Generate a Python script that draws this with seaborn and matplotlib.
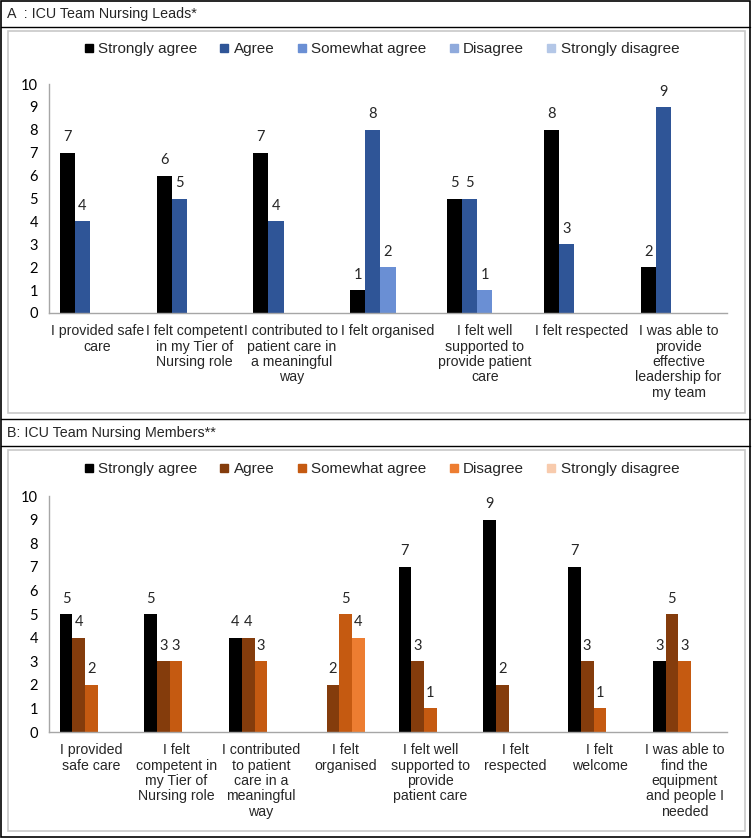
import matplotlib
matplotlib.use("Agg")
import matplotlib.pyplot as plt
import seaborn as sns
import pandas as pd
from matplotlib.lines import Line2D
from matplotlib.patches import Rectangle

# ---------------- data ----------------
responses = ["Strongly agree", "Agree", "Somewhat agree", "Disagree", "Strongly disagree"]

leads_items = [
    "I provided safe\ncare",
    "I felt competent\nin my Tier of\nNursing role",
    "I contributed to\npatient care in\na meaningful\nway",
    "I felt organised",
    "I felt well\nsupported to\nprovide patient\ncare",
    "I felt respected",
    "I was able to\nprovide\neffective\nleadership for\nmy team",
]
leads_strongly_agree = [7, 6, 7, 1, 5, 8, 2]
leads_agree = [4, 5, 4, 8, 5, 3, 9]
leads_somewhat_agree = [0, 0, 0, 2, 1, 0, 0]
leads_disagree = [0, 0, 0, 0, 0, 0, 0]
leads_strongly_disagree = [0, 0, 0, 0, 0, 0, 0]

members_items = [
    "I provided\nsafe care",
    "I felt\ncompetent in\nmy Tier of\nNursing role",
    "I contributed\nto patient\ncare in a\nmeaningful\nway",
    "I felt\norganised",
    "I felt well\nsupported to\nprovide\npatient care",
    "I felt\nrespected",
    "I felt\nwelcome",
    "I was able to\nfind the\nequipment\nand people I\nneeded",
]
members_strongly_agree = [5, 5, 4, 0, 7, 9, 7, 3]
members_agree = [4, 3, 4, 2, 3, 2, 3, 5]
members_somewhat_agree = [2, 3, 3, 5, 1, 0, 1, 3]
members_disagree = [0, 0, 0, 4, 0, 0, 0, 0]
members_strongly_disagree = [0, 0, 0, 0, 0, 0, 0, 0]

yticks = [0, 1, 2, 3, 4, 5, 6, 7, 8, 9, 10]

leads_colors = ["#000000", "#2F5597", "#6A8FD4", "#8FAADC", "#B4C7E7"]
members_colors = ["#000000", "#843C0C", "#C55A11", "#ED7D31", "#F8CBAD"]

# ---------------- figure ----------------
sns.set_theme(style="white")
plt.rcParams["font.family"] = ["Liberation Sans", "DejaVu Sans"]

W, H = 754, 839
fig = plt.figure(figsize=(W / 100, H / 100), dpi=100)


def fx(px):
    return px / W


def fy(py):
    return 1 - py / H


def hline(y, x0=1, x1=750, color="black", lw=1.0):
    fig.add_artist(Line2D([fx(x0), fx(x1)], [fy(y), fy(y)], color=color, lw=lw,
                          transform=fig.transFigure))


def box(x0, y0, x1, y1, color, lw=1.0):
    fig.add_artist(Rectangle((fx(x0), fy(y1)), fx(x1) - fx(x0), fy(y0) - fy(y1),
                             fill=False, edgecolor=color, lw=lw, transform=fig.transFigure))


# outer frame and header bands
box(1, 1, 750, 837, "black", 1.2)
hline(27)
hline(419)
hline(446)
box(8, 31, 745, 413, "#C8C8C8", 1.2)
box(8, 450, 745, 831, "#C8C8C8", 1.2)

head_font = ["Liberation Sans Narrow", "Liberation Sans", "DejaVu Sans"]
fig.text(fx(7), fy(14), "A  : ICU Team Nursing Leads*", ha="left", va="center",
         fontsize=10.3, family=head_font)
fig.text(fx(7), fy(433), "B: ICU Team Nursing Members**", ha="left", va="center",
         fontsize=10.3, family=head_font)


def make_panel(rect, items, series, colors, width, legend_y):
    ax = fig.add_axes(rect)
    rows = []
    for resp, vals in zip(responses, series):
        for it, v in zip(items, vals):
            rows.append({"item": it, "response": resp, "count": v})
    df = pd.DataFrame(rows)
    sns.barplot(data=df, x="item", y="count", hue="response", order=items,
                hue_order=responses, palette=colors, width=width, saturation=1,
                errorbar=None, ax=ax, legend=False, linewidth=0)
    for cont in ax.containers:
        labels = [f"{int(b.get_height())}" if b.get_height() > 0 else "" for b in cont]
        ax.bar_label(cont, labels=labels, padding=6, fontsize=10.5, family=["Lato", "DejaVu Sans"])
    n = len(items)
    ax.set_xlim(-0.5, n - 0.5)
    ax.set_ylim(0, 10)
    ax.set_yticks(yticks)
    ax.set_yticklabels([str(t) for t in yticks], fontsize=10.5, family=["Lato", "DejaVu Sans"])
    ax.set_xlabel("")
    ax.set_ylabel("")
    ax.set_xticks(range(n))
    ax.set_xticklabels(items, fontsize=10.2, linespacing=1.13, ha="center", va="top")
    ax.set_xticks([i - 0.5 for i in range(n + 1)], minor=True)
    ax.tick_params(axis="x", which="major", length=0, pad=8)
    ax.tick_params(axis="x", which="minor", length=5, direction="out", color="#A6A6A6", width=1)
    ax.tick_params(axis="y", which="major", length=4, direction="out", color="#A6A6A6", width=1, pad=4)
    ax.tick_params(axis="y", labelcolor="black")
    for s in ["top", "right"]:
        ax.spines[s].set_visible(False)
    for s in ["left", "bottom"]:
        ax.spines[s].set_color("#A6A6A6")
        ax.spines[s].set_linewidth(1)
    ax.patch.set_alpha(0)

    handles = [Line2D([0], [0], marker="s", linestyle="none", markersize=6,
                      markerfacecolor=c, markeredgecolor=c) for c in colors]
    fig.legend(handles, responses, loc="center", bbox_to_anchor=(fx(382), fy(legend_y)),
               ncol=5, frameon=False, fontsize=11, handlelength=0.5, handletextpad=0.35,
               columnspacing=1.55, borderpad=0)
    return ax


make_panel([fx(49), fy(313), fx(727) - fx(49), fy(84) - fy(313)], leads_items,
           [leads_strongly_agree, leads_agree, leads_somewhat_agree, leads_disagree,
            leads_strongly_disagree], leads_colors, 0.78, 49)

make_panel([fx(49), fy(732), fx(727) - fx(49), fy(496) - fy(732)], members_items,
           [members_strongly_agree, members_agree, members_somewhat_agree, members_disagree,
            members_strongly_disagree], members_colors, 0.75, 469)

fig.savefig("out.png", dpi=100)
